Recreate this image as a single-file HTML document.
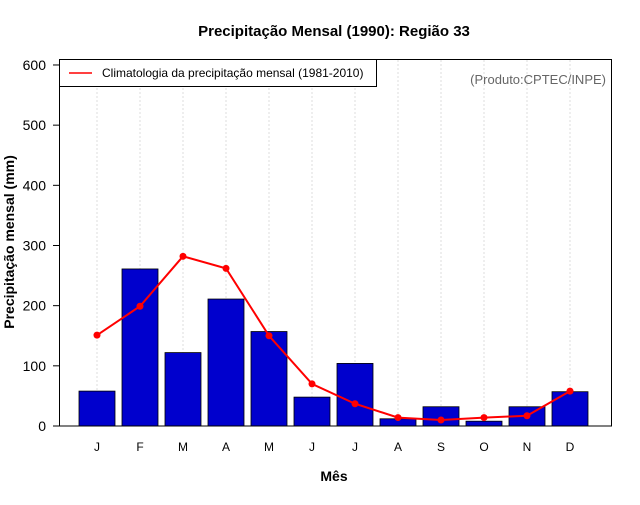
<!DOCTYPE html>
<html><head><meta charset="utf-8"><style>
body{margin:0;background:#fff}
svg{font-family:"Liberation Sans",sans-serif}
</style></head><body>
<svg id="c" width="640" height="500" xmlns="http://www.w3.org/2000/svg">
<text x="334" y="36" text-anchor="middle" font-size="15" font-weight="bold">Precipitação Mensal (1990): Região 33</text>
<text x="334" y="481" text-anchor="middle" font-size="14" font-weight="bold">Mês</text>
<text transform="translate(14,242) rotate(-90)" text-anchor="middle" font-size="14" font-weight="bold">Precipitação mensal (mm)</text>
<g id="grid"></g><g id="bars"></g><g id="line"></g><g id="axes"></g>
<rect x="59.5" y="59.5" width="552" height="366.5" fill="none" stroke="#000"/>
<g>
<rect x="59.5" y="59.5" width="317" height="27" fill="#fff" stroke="#000"/>
<line x1="69" y1="73" x2="92" y2="73" stroke="#f00" stroke-width="1.5"/>
<text x="102" y="77" font-size="12">Climatologia da precipitação mensal (1981-2010)</text>
</g>
<text x="606" y="84" text-anchor="end" font-size="13" fill="#666">(Produto:CPTEC/INPE)</text>
</svg>
<script>
const months=["J","F","M","A","M","J","J","A","S","O","N","D"];
const precip=[58,261,122,211,157,48,104,12,32,8,32,57];
const clim=[151,199,282,262,150,70,37,14,10,14,17,58];
const yTicks=[0,100,200,300,400,500,600];
const NS="http://www.w3.org/2000/svg";
const x=i=>97+i*43;
const y=v=>426-v*0.6017;
function mk(tag,attrs,parent){const e=document.createElementNS(NS,tag);for(const k in attrs)e.setAttribute(k,attrs[k]);document.getElementById(parent).appendChild(e);return e;}
months.forEach((m,i)=>{
 const g=mk("line",{x1:x(i),x2:x(i),y1:60,y2:426,stroke:"#ddd","stroke-dasharray":"2,2"},"grid");
 
 
 const b=mk("rect",{x:x(i)-18,y:y(precip[i]),width:36,height:426-y(precip[i]),fill:"#0000cd",stroke:"#000","stroke-width":0.8},"bars");
 
 
 const t=mk("text",{x:x(i),y:451,"text-anchor":"middle","font-size":12},"axes");
 t.textContent=m;
 
 
});
const pl=mk("polyline",{points:clim.map((v,i)=>x(i)+","+y(v)).join(" "),fill:"none",stroke:"#f00","stroke-width":2},"line");


clim.forEach((v,i)=>{
 const c=mk("circle",{cx:x(i),cy:y(v),r:3.5,fill:"#f00"},"line");
 
 
});
yTicks.forEach(v=>{
 const l=mk("line",{x1:53,x2:59,y1:y(v),y2:y(v),stroke:"#000"},"axes");
 
 
 const t=mk("text",{x:46,y:y(v)+5,"text-anchor":"end","font-size":14},"axes");
 t.textContent=v;
 
 
});
</script>
</body></html>
